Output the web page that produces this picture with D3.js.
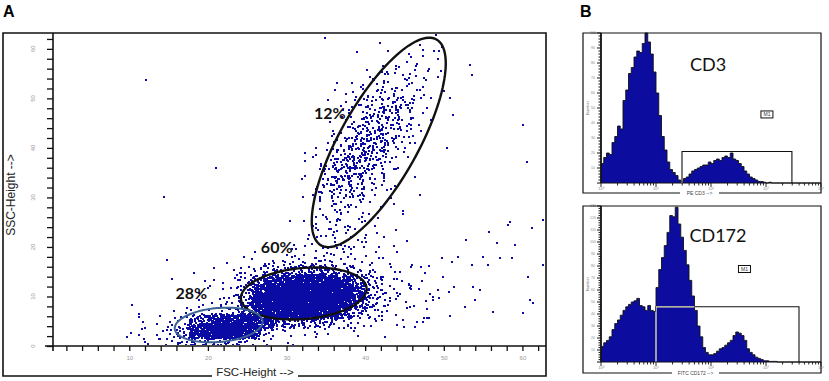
<!DOCTYPE html>
<html>
<head>
<meta charset="utf-8">
<script src="https://cdn.jsdelivr.net/npm/d3@7"></script>
<style>
  body { margin: 0; background: #fff; }
  text { font-family: "Liberation Sans", Arial, sans-serif; }
</style>
</head>
<body>
<svg id="chart" width="829" height="381"></svg>
<script>
// ---------- data: panel A (FSC / SSC dot plot) ----------
// density of events per 2x2 cell (FSC x SSC).
// one string per SSC band, top band (62-64) first; one character per FSC band 0-2, 2-4 ... 62-64
const densityCodes = ".123456789abcdef";
const densityLevels = [0, 1, 2, 3, 5, 7, 10, 14, 19, 26, 40, 65, 100, 150, 210, 280];
const sscRows = [
  "........ ........ ........ ........",
  "........ ........ .......2 1.......",
  "........ ........ .....112 2.......",
  "........ ........ ....1222 1.......",
  "........ ........ ...12343 2.......",
  "........ ........ ..124443 1.......",
  "........ ........ ..234543 1.......",
  "........ ........ ..246763 1.......",
  "........ ........ ..147762 ........",
  "........ ........ ..267762 ........",
  "........ ........ .1478741 ........",
  "........ ........ .2588731 ........",
  "........ ........ 1378852. ........",
  "........ ........ 1488741. ........",
  "........ ........ 2588531. ........",
  "........ ........ 258752.. ........",
  "........ ........ 257632.. ........",
  "........ ........ 145422.. ........",
  "........ ........ 13431... ........",
  "........ .......1 244321.. ........",
  "........ ........ 244321.. ........",
  "........ .......1 2343211. ........",
  "........ .....112 3443211. ........",
  "........ ...12345 55432211 ........",
  "........ .1124789 aa864321 1.......",
  "........ 11237bcd ddca7432 11......",
  "........ .1238cde eedb7432 11......",
  ".....1.. .2249def ffdb7432 1.......",
  ".....1.1 2346acde edb85321 1.......",
  ".....213 6acddca9 98643221 ........",
  ".....324 8deed844 3322111. ........",
  ".....234 68875311 ........ ........"
];

// single events away from the populations [FSC, SSC]
const outliers = [
  [12.1, 53.7], [21.0, 36.0], [14.4, 30.1], [14.8, 17.4],
  [58.1, 24.4], [58.4, 25.1], [61.2, 23.8], [62.6, 25.5], [55.7, 23.0],
  [56.7, 20.8], [59.0, 20.4], [52.8, 21.4], [49.7, 17.8], [51.0, 17.0],
  [51.8, 18.0], [53.6, 16.4], [55.0, 18.0], [55.6, 16.4], [57.1, 17.8],
  [58.7, 17.8], [62.6, 16.4], [60.7, 13.9], [53.7, 11.9], [54.6, 11.3],
  [48.6, 9.9], [48.6, 9.3], [53.9, 9.3], [60.9, 9.3], [61.3, 8.7],
  [52.7, 7.9], [56.2, 6.9], [50.8, 6.1], [60.1, 6.7], [47.8, 5.7],
  [46.6, 4.8], [47.3, 4.8],
  [53.3, 56.8], [53.6, 54.7], [50.8, 50.1], [51.1, 46.7], [60.1, 44.6],
  [50.4, 40.0], [60.6, 37.2], [46.9, 30.5], [44.8, 27.3], [44.8, 26.7],
  [49.0, 62.8], [34.9, 62.2], [41.9, 61.2], [35.2, 49.7], [38.9, 59.4]
];

// gates: centre and the two semi-axis vectors, in FSC/SSC units
const gateNames = ["12%", "60%", "28%"];
const gateCentres = [[41.73, 41.11], [32.19, 10.6], [21.37, 4.24]];
const gateAxisU = [[7.34, 20.79], [7.99, 1.11], [5.58, 0.77]];
const gateAxisV = [[4.33, -3.86], [0.28, -5.13], [0.19, -3.42]];
const gateLabelAt = [[35.5, 47.1], [28.75, 20.0], [17.9, 10.9]];

const fscTicks = d3.range(2, 63, 2);
const sscTicks = d3.range(0, 63, 2);

// ---------- data: panel B (histograms, 20 channels per decade, 1 - 10^4) ----------
const cd3Counts = [
  13, 17, 20, 19, 27, 31, 38, 36, 55, 62, 73, 77, 84, 88, 87, 93, 100, 94, 86, 74,
  60, 45, 31, 22, 14, 9, 7, 5, 2, 1, 3, 4, 6, 8, 9, 10, 11, 12, 12, 14,
  13, 15, 16, 15, 17, 18, 17, 20, 16, 15, 13, 11, 8, 6, 4, 3, 2, 1, 1, 0.5,
  0, 0.5, 0, 0, 0, 0, 0, 0, 0, 0, 0, 0, 0, 0, 0, 0, 0, 0, 0, 0
];
const cd172Counts = [
  13, 16, 18, 21, 27, 32, 35, 39, 43, 46, 48, 50, 51, 53, 47, 46, 43, 47, 43, 42,
  62, 77, 87, 97, 108, 122, 121, 129, 115, 104, 93, 81, 68, 55, 43, 30, 21, 12, 8, 6,
  6, 7, 9, 11, 12, 14, 16, 18, 22, 25, 24, 22, 18, 11, 8, 6, 4, 3, 2, 1,
  1, 0.5, 0.5, 0.5, 0, 0, 0, 0, 0, 0, 0, 0, 0, 0, 0, 0, 0, 0, 0, 0
];
const histNames = ["CD3", "CD172"];
const histAxisTitles = ["PE CD3 -->", "FITC CD172 -->"];
const histMax = [100, 130];
const markerRanges = [[29.7, 2960, 21], [10, 3981, 46]];   // from, to, height
const markerTagAt = [[1040, 45.7], [406, 77.5]];
const decadeLabels = ["10\u2070", "10\u00b9", "10\u00b2", "10\u00b3", "10\u2074"];

// ---------- drawing ----------
const svg = d3.select("#chart");

function halton(i, b) {
  let f = 1, r = 0;
  while (i > 0) { f /= b; r += f * (i % b); i = Math.floor(i / b); }
  return r;
}

// panel A
const x = d3.scaleLinear().domain([0.3, 63]).range([53, 546]);
const y = d3.scaleLinear().domain([0, 63.2]).range([346, 33]);
const gA = svg.append("g");

svg.append("defs").append("clipPath").attr("id", "plotA")
  .append("rect").attr("x", 54).attr("y", 34).attr("width", 491).attr("height", 311);

// spread each cell's events over the cell (halton positions, nudged so no lattice shows)
const dots = [];
sscRows.forEach((row, r) => {
  const cells = row.replace(/ /g, "");
  const j = sscRows.length - 1 - r;
  for (let i = 0; i < cells.length; i++) {
    const n = densityLevels[densityCodes.indexOf(cells[i])] || 0;
    const off = (i * 131 + j * 57) % 397 + 1;
    for (let m = 0; m < n; m++) {
      const q = off + m;
      const u = halton(q, 2) + 0.35 * (halton(q, 5) - 0.5);
      const v = halton(q, 3) + 0.35 * (halton(q, 7) - 0.5);
      const fx = Math.min(62.8, Math.max(0.6, 2 * i - 0.3 + 2.6 * u));
      const fy = Math.min(62.9, Math.max(0.3, 2 * j - 0.3 + 2.6 * v));
      dots.push([fx, fy]);
    }
  }
});
outliers.forEach(p => dots.push(p));

gA.append("g").attr("clip-path", "url(#plotA)").attr("shape-rendering", "crispEdges")
  .selectAll("rect").data(dots).join("rect")
  .attr("x", d => Math.round(x(d[0]) - 0.8))
  .attr("y", d => Math.round(y(d[1]) - 0.8))
  .attr("width", 1.6).attr("height", 1.6)
  .attr("fill", "#0a0aa4");

// gates
const ellipse = (c, u, v) => d3.range(0, 121).map(k => {
  const t = k / 120 * 2 * Math.PI;
  return [c[0] + u[0] * Math.cos(t) + v[0] * Math.sin(t), c[1] + u[1] * Math.cos(t) + v[1] * Math.sin(t)];
});
const gateLine = d3.line().x(d => x(d[0])).y(d => y(d[1])).curve(d3.curveLinearClosed);
const gateColours = ["#111", "#111", "#3d6294"];
gateNames.forEach((name, k) => {
  gA.append("path")
    .attr("d", gateLine(ellipse(gateCentres[k], gateAxisU[k], gateAxisV[k])))
    .attr("fill", "none").attr("stroke", gateColours[k]).attr("stroke-width", k === 2 ? 2 : 2.4);
  gA.append("text")
    .attr("x", x(gateLabelAt[k][0])).attr("y", y(gateLabelAt[k][1]))
    .attr("text-anchor", "middle").attr("dominant-baseline", "central")
    .style("font-family", "Lato, 'Open Sans', sans-serif")
    .style("font-weight", "bold").style("font-size", "16px").attr("fill", "#111")
    .text(name);
});

// axes
const xAxis = gA.append("g").attr("transform", "translate(0,346)")
  .call(d3.axisBottom(x).tickValues(fscTicks).tickSize(5).tickFormat(d => d % 10 === 0 ? d : ""));
const yAxis = gA.append("g").attr("transform", "translate(53,0)")
  .call(d3.axisLeft(y).tickValues(sscTicks).tickSize(6).tickFormat(""));
[xAxis, yAxis].forEach(a => {
  a.select(".domain").remove();
  a.selectAll(".tick line").attr("stroke", "#111").attr("stroke-width", 1.3);
});
xAxis.selectAll(".tick text").attr("y", 10).attr("fill", "#999").style("font-size", "6px");
gA.selectAll(".ylab").data(sscTicks.filter(d => d % 10 === 0)).join("text")
  .attr("class", "ylab")
  .attr("transform", d => `translate(33,${y(d)}) rotate(-90)`)
  .attr("text-anchor", "middle").attr("dominant-baseline", "central")
  .attr("fill", "#999").style("font-size", "6px")
  .text(d => d);
gA.append("line").attr("x1", 53).attr("x2", 53).attr("y1", 33).attr("y2", 351)
  .attr("stroke", "#111").attr("stroke-width", 1.6);
gA.append("line").attr("x1", 45).attr("x2", 546).attr("y1", 346).attr("y2", 346)
  .attr("stroke", "#111").attr("stroke-width", 1.6);

// frame of panel A
const frameA = "M212,376 H3 V33 H546 V376 H298";
gA.append("path").attr("d", frameA).attr("fill", "none").attr("stroke", "#111").attr("stroke-width", 1.6);
gA.append("text").attr("x", 255).attr("y", 376).attr("text-anchor", "middle")
  .style("font-size", "11.5px").attr("fill", "#222").text("FSC-Height -->");
gA.append("text").attr("transform", "translate(15,195) rotate(-90)").attr("text-anchor", "middle")
  .style("font-size", "12px").attr("fill", "#222").text("SSC-Height -->");

svg.append("text").attr("x", 3).attr("y", 17).style("font-size", "16px").style("font-weight", "bold").text("A");
svg.append("text").attr("x", 580).attr("y", 17).style("font-size", "16px").style("font-weight", "bold").text("B");

// panel B
const xh = d3.scaleLog().domain([1, 1e4]).range([601, 821]);
const edges = d3.range(81).map(k => Math.pow(10, k / 20));
const histBoxes = [[33, 183, 193], [206, 362, 373]];   // top, axis, frame bottom
const histData = [cd3Counts, cd172Counts];
const labelGap = [[680, 719], [672, 719]];

histNames.forEach((name, h) => {
  const [top, base, bottom] = histBoxes[h];
  const yh = d3.scaleLinear().domain([0, histMax[h]]).range([base, top]);
  const g = svg.append("g");
  const pts = histData[h].map((c, k) => [edges[k], c]).concat([[edges[80], 0]]);
  const area = d3.area().x(d => xh(d[0])).y0(base).y1(d => yh(d[1])).curve(d3.curveStepAfter);
  const line = d3.line().x(d => xh(d[0])).y(d => yh(d[1])).curve(d3.curveStepAfter);

  g.append("path").attr("d", area(pts)).attr("fill", "#0c0c9e");
  g.append("path").attr("d", line(pts)).attr("fill", "none").attr("stroke", "#111").attr("stroke-width", 0.9);

  // marker
  const [lo, hi, mh] = markerRanges[h];
  const mPath = `M${xh(lo)},${base} V${yh(mh)} H${xh(hi)} V${base}`;
  g.append("path").attr("d", mPath).attr("fill", "none").attr("stroke", "#111").attr("stroke-width", 1.1);
  g.append("clipPath").attr("id", "fill" + h).append("path").attr("d", area(pts));
  g.append("path").attr("d", mPath).attr("clip-path", `url(#fill${h})`)
    .attr("fill", "none").attr("stroke", "#ecebc6").attr("stroke-width", 1.3);
  const tag = g.append("g").attr("transform", `translate(${xh(markerTagAt[h][0])},${yh(markerTagAt[h][1])})`);
  tag.append("rect").attr("x", -6).attr("y", -3.5).attr("width", 12).attr("height", 7)
    .attr("fill", "#fff").attr("stroke", "#111").attr("stroke-width", 1);
  tag.append("text").attr("text-anchor", "middle").attr("dominant-baseline", "central")
    .style("font-size", "5px").attr("fill", "#333").text("M1");

  g.append("text").attr("x", h === 0 ? 708 : 718).attr("y", h === 0 ? 64 : 235)
    .attr("text-anchor", "middle").attr("dominant-baseline", "central")
    .style("font-family", "Lato, 'Open Sans', sans-serif").style("font-size", "18px").attr("fill", "#111")
    .text(name);

  // y axis comb
  const yt = d3.range(0, histMax[h] + 0.1, 2);
  g.selectAll(".yt").data(yt).join("line")
    .attr("x1", d => d % 10 === 0 ? 597 : 598.5).attr("x2", 601)
    .attr("y1", d => yh(d)).attr("y2", d => yh(d)).attr("stroke", "#111").attr("stroke-width", 1);
  g.selectAll(".yl").data(yt.filter(d => d % 10 === 0 && d > 0)).join("text")
    .attr("x", 593).attr("y", d => yh(d)).attr("text-anchor", "middle").attr("dominant-baseline", "central")
    .style("font-size", "3.5px").attr("fill", "#888").text(d => d);
  g.append("text").attr("transform", `translate(587,${(top + base) / 2}) rotate(-90)`)
    .attr("text-anchor", "middle").attr("dominant-baseline", "central")
    .style("font-size", "4px").attr("fill", "#667").text("Number");

  // x axis, log ticks
  const xt = [];
  for (let d = 0; d < 4; d++) for (let m = 1; m < 10; m++) xt.push(m * Math.pow(10, d));
  xt.push(1e4);
  g.selectAll(".xt").data(xt).join("line")
    .attr("x1", d => xh(d)).attr("x2", d => xh(d))
    .attr("y1", base).attr("y2", d => Math.log10(d) % 1 === 0 ? base + 4 : base + 2.5)
    .attr("stroke", "#111").attr("stroke-width", 0.9);
  g.selectAll(".xl").data(decadeLabels).join("text")
    .attr("x", (d, i) => xh(Math.pow(10, i))).attr("y", base + 6.5).attr("text-anchor", "middle")
    .style("font-size", "4px").attr("fill", "#888").text(d => d);

  g.append("line").attr("x1", 601).attr("x2", 601).attr("y1", top).attr("y2", base)
    .attr("stroke", "#111").attr("stroke-width", 1.8);
  g.append("line").attr("x1", 601).attr("x2", 821).attr("y1", base).attr("y2", base)
    .attr("stroke", "#111").attr("stroke-width", 1);

  // frame
  g.append("path").attr("d", `M${labelGap[h][0]},${bottom} H583 V${top} H821 V${bottom} H${labelGap[h][1]}`)
    .attr("fill", "none").attr("stroke", "#111").attr("stroke-width", 1.2);
  g.append("text").attr("x", (labelGap[h][0] + labelGap[h][1]) / 2).attr("y", bottom + 1.5)
    .attr("text-anchor", "middle").style("font-size", "5px").attr("fill", "#444").text(histAxisTitles[h]);
});
</script>
</body>
</html>
